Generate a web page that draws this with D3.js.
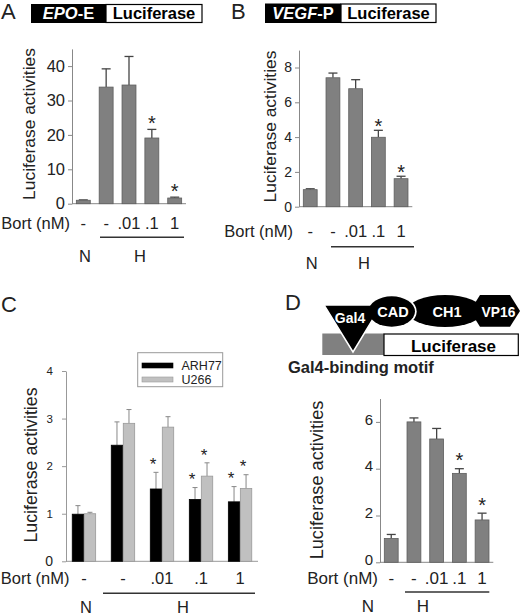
<!DOCTYPE html>
<html>
<head>
<meta charset="utf-8">
<script src="https://cdn.jsdelivr.net/npm/d3@7"></script>
<style>
body { margin: 0; background: #fff; }
svg { display: block; font-family: "Liberation Sans", Arial, sans-serif; }
</style>
</head>
<body>
<svg id="fig" width="520" height="615"></svg>
<script>
// dose labels under every panel
const bortDoses = ["-", "-", ".01", ".1", "1"];

// A: EPO-E reporter
const epoMeans  = [1.0, 33.9, 34.5, 19.1, 1.65];
const epoErrors = [0.1, 5.3, 8.3, 2.5, 0.25];
const epoStars  = [false, false, false, true, true];
const epoTicks  = [0, 10, 20, 30, 40];

// B: VEGF-P reporter
const vegfMeans  = [0.98, 7.41, 6.78, 3.99, 1.61];
const vegfErrors = [0.05, 0.27, 0.52, 0.4, 0.14];
const vegfStars  = [false, false, false, true, true];
const vegfTicks  = [0, 2, 4, 6, 8];

// C: two myeloma lines
const cellLines   = ["ARH77", "U266"];
const arh77Means  = [0.99, 2.44, 1.52, 1.30, 1.25];
const arh77Errors = [0.18, 0.49, 0.35, 0.25, 0.32];
const arh77Stars  = [false, false, true, true, true];
const u266Means   = [1.0, 2.90, 2.82, 1.79, 1.53];
const u266Errors  = [0.03, 0.29, 0.22, 0.28, 0.29];
const u266Stars   = [false, false, false, true, true];
const cellTicks   = [0, 1, 2, 3, 4];

// D: Gal4 fusion reporter
const gal4Means  = [1.02, 6.0, 5.27, 3.80, 1.81];
const gal4Errors = [0.17, 0.17, 0.45, 0.2, 0.29];
const gal4Stars  = [false, false, false, true, true];
const gal4Ticks  = [0, 2, 4, 6];

const svg = d3.select("#fig");
const ink = "#222";
const intFmt = d3.format("d");

function panelLetter(t, x, y) {
  svg.append("text").attr("x", x).attr("y", y).attr("font-size", 22).attr("fill", ink).text(t);
}

function yLabel(x, cy, fs) {
  svg.append("text")
    .attr("transform", "translate(" + x + "," + cy + ") rotate(-90)")
    .attr("text-anchor", "middle").attr("font-size", fs).attr("fill", ink)
    .text("Luciferase activities");
}

// dose row + N / H labels
function doseRow(p, centers) {
  svg.append("text").attr("x", p.bortX).attr("y", p.rowY).attr("text-anchor", "end")
    .attr("font-size", p.rowFs).attr("fill", ink).text("Bort (nM)");
  svg.append("g").selectAll("text").data(bortDoses).join("text")
    .attr("x", (d, i) => centers[i]).attr("y", p.rowY)
    .attr("text-anchor", "middle").attr("font-size", p.rowFs).attr("fill", ink)
    .text(d => d);
  svg.append("line").attr("x1", p.lineX[0]).attr("x2", p.lineX[1])
    .attr("y1", p.lineY).attr("y2", p.lineY).attr("stroke", "#333").attr("stroke-width", 1.5);
  svg.append("text").attr("x", p.nX).attr("y", p.nhY).attr("text-anchor", "middle")
    .attr("font-size", p.rowFs).attr("fill", ink).text("N");
  svg.append("text").attr("x", p.hX).attr("y", p.nhY).attr("text-anchor", "middle")
    .attr("font-size", p.rowFs).attr("fill", ink).text("H");
}

function singlePanel(p) {
  const x = d3.scaleBand().domain(d3.range(p.means.length))
    .range([p.x0, p.x1]).paddingInner(0.39).paddingOuter(0.19);
  const y = d3.scaleLinear().domain([0, p.yMax]).range([p.y0, p.yTop]);
  const g = svg.append("g");

  const ax = g.append("g").attr("transform", "translate(" + p.x0 + ",0)")
    .call(d3.axisLeft(y).tickValues(p.ticks).tickFormat(intFmt)
      .tickSize(4).tickSizeOuter(0).tickPadding(3));
  ax.select(".domain").attr("stroke", "#888");
  ax.selectAll(".tick line").attr("stroke", "#888");
  ax.selectAll(".tick text").attr("font-size", p.tickFs).attr("fill", ink)
    .attr("dy", p.tickDy || "0.32em")
    .attr("font-family", "Liberation Sans, Arial, sans-serif");

  g.append("line").attr("x1", p.x0).attr("x2", p.x1).attr("y1", y(0)).attr("y2", y(0))
    .attr("stroke", "#888");

  const rows = p.means.map((m, i) => ({ i: i, m: m, e: p.errors[i], s: p.stars[i] }));
  const mid = d => x(d.i) + x.bandwidth() / 2;

  g.selectAll(".err").data(rows).join("line")
    .attr("x1", mid).attr("x2", mid)
    .attr("y1", d => y(d.m)).attr("y2", d => y(d.m + d.e))
    .attr("stroke", "#444").attr("stroke-width", 1.3);
  g.selectAll(".cap").data(rows).join("line")
    .attr("x1", d => mid(d) - 4.5).attr("x2", d => mid(d) + 4.5)
    .attr("y1", d => y(d.m + d.e)).attr("y2", d => y(d.m + d.e))
    .attr("stroke", "#444").attr("stroke-width", 1.3);

  g.selectAll("rect").data(rows).join("rect")
    .attr("x", d => x(d.i)).attr("width", x.bandwidth())
    .attr("y", d => y(d.m)).attr("height", d => y(0) - y(d.m))
    .attr("fill", "#808080").attr("stroke", "#5e5e5e").attr("stroke-width", 0.8);

  g.selectAll(".star").data(rows.filter(d => d.s)).join("text")
    .attr("x", mid)
    .attr("y", d => y(d.m + d.e) - p.starGap + 0.575 * 20)
    .attr("text-anchor", "middle").attr("font-size", 20).attr("fill", ink).text("*");

  yLabel(p.labelX, p.labelY, p.labelFs);
  doseRow(p, rows.map(mid));
}

function headerBox(x0, xm, x1, y0, y1, gene, suffix) {
  svg.append("rect").attr("x", x0).attr("y", y0).attr("width", xm - x0).attr("height", y1 - y0).attr("fill", "#000");
  svg.append("rect").attr("x", xm).attr("y", y0 + 0.5).attr("width", x1 - xm).attr("height", y1 - y0 - 1)
    .attr("fill", "#fff").attr("stroke", "#000").attr("stroke-width", 1.2);
  const t = svg.append("text").attr("x", (x0 + xm) / 2).attr("y", y1 - 4.5)
    .attr("text-anchor", "middle").attr("font-size", 16.5).attr("font-weight", "bold").attr("fill", "#fff");
  t.append("tspan").attr("font-style", "italic").text(gene);
  t.append("tspan").text(suffix);
  svg.append("text").attr("x", (xm + x1) / 2).attr("y", y1 - 4.5).attr("text-anchor", "middle")
    .attr("font-size", 16.5).attr("font-weight", "bold").attr("fill", "#000").text("Luciferase");
}

// ---------- A ----------
panelLetter("A", 1, 19);
headerBox(31, 106, 202, 4, 23, "EPO", "-E");
singlePanel({
  means: epoMeans, errors: epoErrors, stars: epoStars, ticks: epoTicks, yMax: 45,
  x0: 72, x1: 186, y0: 203.7, yTop: 48.9, tickFs: 16.5, starGap: 11,
  labelX: 34.5, labelY: 124, labelFs: 17.4,
  bortX: 70, rowY: 229, rowFs: 16.5, lineX: [100, 184], lineY: 237.3, nX: 85, hX: 140, nhY: 261.5
});

// ---------- B ----------
panelLetter("B", 231, 19);
headerBox(265, 341, 436, 3.5, 23, "VEGF", "-P");
singlePanel({
  means: vegfMeans, errors: vegfErrors, stars: vegfStars, ticks: vegfTicks, yMax: 9,
  x0: 299, x1: 412.3, y0: 206.7, yTop: 50.1, tickFs: 14, starGap: 9,
  labelX: 276, labelY: 126.5, labelFs: 17.4,
  bortX: 293, rowY: 237, rowFs: 16.5, lineX: [331, 414], lineY: 246.7, nX: 311.7, hX: 364, nhY: 269
});

// ---------- C ----------
panelLetter("C", 1, 312);
(function () {
  const x0 = 66, x1 = 258, y0 = 561.3, yTop = 371;
  const xg = d3.scaleBand().domain(d3.range(bortDoses.length)).range([x0, x1])
    .paddingInner(0.4).paddingOuter(0.16);
  const xs = d3.scaleBand().domain(cellLines).range([0, xg.bandwidth()]).paddingInner(0.05);
  const y = d3.scaleLinear().domain([0, 4]).range([y0, yTop]);
  const colors = { ARH77: "#000", U266: "#c0c0c0" };
  const g = svg.append("g");

  const ax = g.append("g").attr("transform", "translate(" + x0 + ",0)")
    .call(d3.axisLeft(y).tickValues(cellTicks).tickFormat(intFmt)
      .tickSize(4).tickSizeOuter(0).tickPadding(9));
  ax.select(".domain").attr("stroke", "#999");
  ax.selectAll(".tick line").attr("stroke", "#999");
  ax.selectAll(".tick text").attr("font-size", d => d === 0 ? 14 : 11.5).attr("fill", ink)
    .attr("font-family", "Liberation Sans, Arial, sans-serif");
  g.append("line").attr("x1", x0).attr("x2", x1).attr("y1", y0).attr("y2", y0).attr("stroke", "#999");

  const rows = [];
  bortDoses.forEach((d, i) => {
    rows.push({ i: i, c: "ARH77", m: arh77Means[i], e: arh77Errors[i], s: arh77Stars[i] });
    rows.push({ i: i, c: "U266", m: u266Means[i], e: u266Errors[i], s: u266Stars[i] });
  });
  const cx = d => xg(d.i) + xs(d.c) + xs.bandwidth() / 2;

  g.selectAll(".err").data(rows).join("line")
    .attr("x1", cx).attr("x2", cx).attr("y1", d => y(d.m)).attr("y2", d => y(d.m + d.e))
    .attr("stroke", "#888").attr("stroke-width", 1);
  g.selectAll(".cap").data(rows).join("line")
    .attr("x1", d => cx(d) - 2.5).attr("x2", d => cx(d) + 2.5)
    .attr("y1", d => y(d.m + d.e)).attr("y2", d => y(d.m + d.e))
    .attr("stroke", "#888").attr("stroke-width", 1);
  g.selectAll("rect").data(rows).join("rect")
    .attr("x", d => xg(d.i) + xs(d.c)).attr("width", xs.bandwidth())
    .attr("y", d => y(d.m)).attr("height", d => y0 - y(d.m))
    .attr("fill", d => colors[d.c]).attr("stroke", d => d.c === "U266" ? "#999" : "#000")
    .attr("stroke-width", 0.8);
  g.selectAll(".star").data(rows.filter(d => d.s)).join("text")
    .attr("x", d => cx(d) - 3).attr("y", d => y(d.m + d.e) - 12 + 0.575 * 17)
    .attr("text-anchor", "middle").attr("font-size", 17).attr("fill", ink).text("*");

  // legend
  const lg = svg.append("g");
  lg.append("rect").attr("x", 137.7).attr("y", 352.7).attr("width", 85).attr("height", 34)
    .attr("fill", "#fff").attr("stroke", "#999");
  cellLines.forEach((c, k) => {
    lg.append("rect").attr("x", 142).attr("y", 363 + k * 14).attr("width", 31).attr("height", 5)
      .attr("fill", colors[c]).attr("stroke", c === "U266" ? "#999" : "#000").attr("stroke-width", 0.6);
    lg.append("text").attr("x", 181.5).attr("y", 370.3 + k * 14).attr("font-size", 12.5)
      .attr("fill", ink).text(c);
  });

  yLabel(36.5, 465, 17.8);
  doseRow({ bortX: 69.5, rowY: 583.5, rowFs: 16.5, lineX: [103, 255], lineY: 593.3,
            nX: 86, hX: 183, nhY: 612.5 },
    bortDoses.map((d, i) => xg(i) + xg.bandwidth() / 2));
})();

// ---------- D ----------
panelLetter("D", 285, 310);
(function () {
  const g = svg.append("g");
  g.append("rect").attr("x", 322.3).attr("y", 333.5).attr("width", 62).attr("height", 21.5).attr("fill", "#808080");
  g.append("rect").attr("x", 384).attr("y", 334).attr("width", 134.3).attr("height", 21.5)
    .attr("fill", "#fff").attr("stroke", "#000").attr("stroke-width", 1.2);
  g.append("text").attr("x", 453.5).attr("y", 351.5).attr("text-anchor", "middle")
    .attr("font-size", 17).attr("font-weight", "bold").attr("fill", "#000").text("Luciferase");

  g.append("ellipse").attr("cx", 445).attr("cy", 311).attr("rx", 38).attr("ry", 16).attr("fill", "#000");
  g.append("polygon").attr("points", "470,311 480,295 510,295 520,311 510,326.7 480,326.7").attr("fill", "#000");
  g.append("ellipse").attr("cx", 391.7).attr("cy", 311.5).attr("rx", 25).attr("ry", 16.8).attr("fill", "#fff");
  g.append("polygon").attr("points", "324,305 381.5,305 353,352")
    .attr("fill", "#000").attr("stroke", "#fff").attr("stroke-width", 1.5);
  g.append("ellipse").attr("cx", 391.7).attr("cy", 311.5).attr("rx", 23.3).attr("ry", 15.2).attr("fill", "#000");

  const lab = (t, x, y, fs) => g.append("text").attr("x", x).attr("y", y).attr("text-anchor", "middle")
    .attr("font-size", fs).attr("font-weight", "bold").attr("fill", "#fff").text(t);
  lab("Gal4", 350, 323, 14);
  lab("CAD", 393, 316.5, 14.5);
  lab("CH1", 447, 316.5, 14.5);
  lab("VP16", 498.5, 316.5, 13.8);

  svg.append("text").attr("x", 288).attr("y", 373).attr("font-size", 16.5).attr("font-weight", "bold")
    .attr("fill", ink).text("Gal4-binding motif");
})();
singlePanel({
  means: gal4Means, errors: gal4Errors, stars: gal4Stars, ticks: gal4Ticks, yMax: 7,
  x0: 380, x1: 493.3, y0: 562.3, yTop: 398.5, tickFs: 15, tickDy: "0.15em", starGap: 13,
  labelX: 323, labelY: 480, labelFs: 18.2,
  bortX: 378, rowY: 583.5, rowFs: 17, lineX: [405, 489.3], lineY: 592, nX: 368, hX: 423, nhY: 612.3
});
</script>
</body>
</html>
